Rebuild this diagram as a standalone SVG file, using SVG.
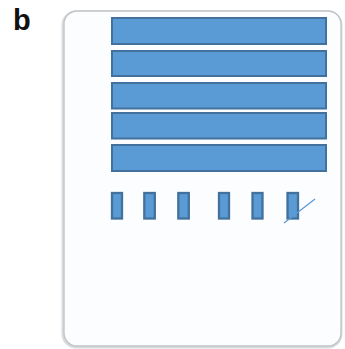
<svg xmlns="http://www.w3.org/2000/svg" width="345" height="349" viewBox="0 0 345 349">
<style>
.bar{fill:#5b9bd5;stroke:#41719c;stroke-width:2}
.pin{fill:#5b9bd5;stroke:#41719c;stroke-width:2.3}
.lbl{font-family:"Liberation Sans",Arial,sans-serif;font-weight:bold;font-size:29px;fill:#111}
</style>
<rect width="345" height="349" fill="#ffffff"/>
<text class="lbl" x="13" y="30">b</text>
<g id="panel">
<rect x="63" y="12" width="278" height="335" rx="13" fill="none" stroke="#d8dcdf" stroke-width="3"/>
<rect x="64" y="11" width="277" height="335" rx="13" fill="#fcfdfe" stroke="#bfc3c7" stroke-width="1.3"/>
</g>
<g id="bar1"><rect class="bar" x="112" y="18" width="214" height="26"/></g>
<g id="bar2"><rect class="bar" x="112" y="51" width="214" height="25"/></g>
<g id="bar3"><rect class="bar" x="112" y="83" width="214" height="25.5"/></g>
<g id="bar4"><rect class="bar" x="112" y="113" width="214" height="25.5"/></g>
<g id="bar5"><rect class="bar" x="112" y="145" width="214" height="26"/></g>
<g id="pin1"><rect class="pin" x="112" y="193" width="10" height="25.5"/></g>
<g id="pin2"><rect class="pin" x="144.3" y="193" width="10.5" height="25.5"/></g>
<g id="pin3"><rect class="pin" x="178.3" y="193" width="10.5" height="25.5"/></g>
<g id="pin4"><rect class="pin" x="219" y="193" width="10" height="25.5"/></g>
<g id="pin5"><rect class="pin" x="252.5" y="193" width="10" height="25.5"/></g>
<g id="pin6"><rect class="pin" x="287.5" y="193" width="10.5" height="25.5"/></g>
<g id="connectors">
<line x1="284" y1="223" x2="315" y2="199" stroke="#5b9bd5" stroke-width="1.3"/>
</g>
</svg>
